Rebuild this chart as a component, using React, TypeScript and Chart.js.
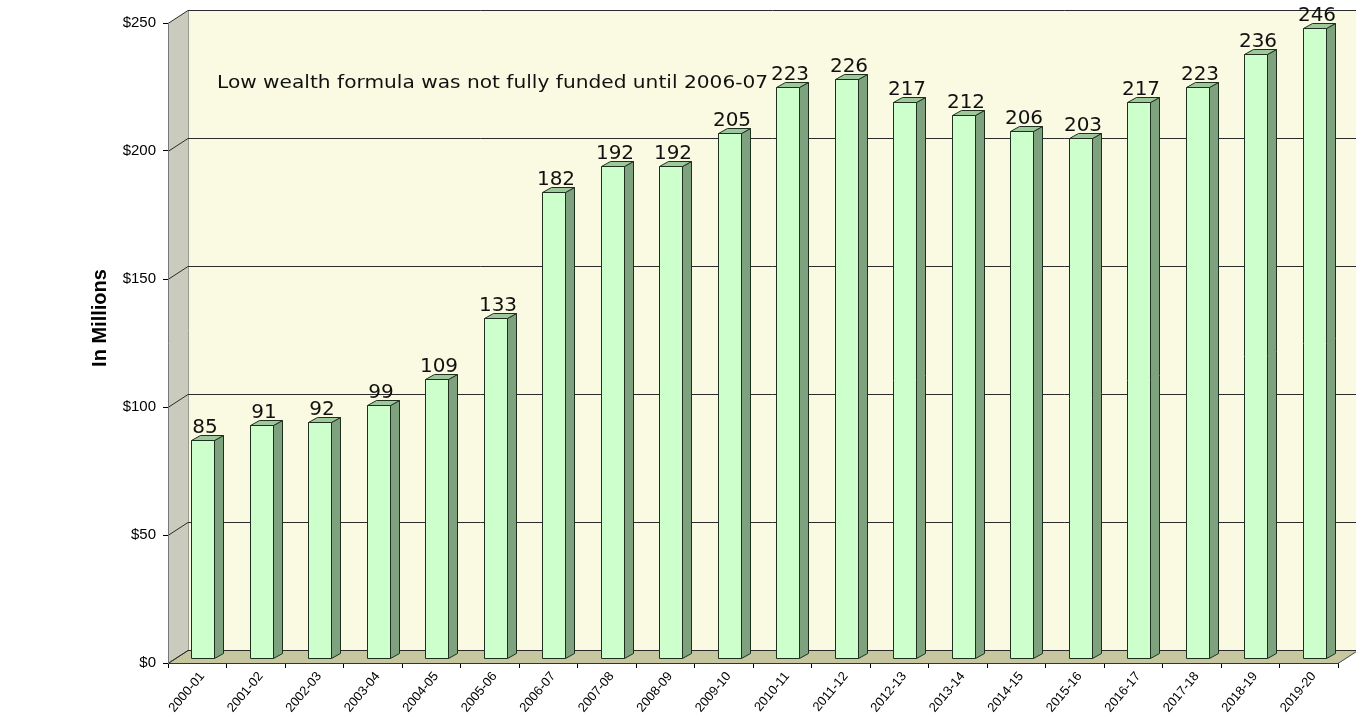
import React, { useEffect, useRef } from 'react';
import { Chart, registerables } from 'chart.js';

Chart.register(...registerables);

const categories = ['2000-01', '2001-02', '2002-03', '2003-04', '2004-05', '2005-06', '2006-07', '2007-08', '2008-09', '2009-10', '2010-11', '2011-12', '2012-13', '2013-14', '2014-15', '2015-16', '2016-17', '2017-18', '2018-19', '2019-20'];
const values = [85, 91, 92, 99, 109, 133, 182, 192, 192, 205, 223, 226, 217, 212, 206, 203, 217, 223, 236, 246];
const yTicks = [0, 50, 100, 150, 200, 250];
const yTitle = 'In Millions';
const annotation = 'Low wealth formula was not fully funded until 2006-07';

const DX = 20;
const DY = -13;

const threeD = {
  id: 'threeD',
  beforeDraw(chart: any) {
    const { ctx, chartArea: a, scales } = chart;
    const y = scales.y;
    const L = a.left, R = a.right;
    const T = Math.round(y.getPixelForValue(250)) + 0.5;
    const B = Math.round(y.getPixelForValue(0)) + 0.5;
    ctx.save();
    // back wall
    ctx.fillStyle = '#FAFAE2';
    ctx.fillRect(L + DX, T + DY, R - L + 60, B - T);
    // left wall
    ctx.beginPath();
    ctx.moveTo(L, T);
    ctx.lineTo(L + DX, T + DY);
    ctx.lineTo(L + DX, B + DY);
    ctx.lineTo(L, B);
    ctx.closePath();
    ctx.fillStyle = '#CBCBBD';
    ctx.fill();
    // floor
    ctx.beginPath();
    ctx.moveTo(L, B);
    ctx.lineTo(L + DX, B + DY);
    ctx.lineTo(R + DX, B + DY);
    ctx.lineTo(R, B);
    ctx.closePath();
    ctx.fillStyle = '#C6C69F';
    ctx.fill();
    ctx.strokeStyle = '#444444';
    ctx.lineWidth = 1;
    ctx.stroke();
    // back wall left edge
    ctx.strokeStyle = '#9a9a90';
    ctx.beginPath();
    ctx.moveTo(L + DX + 0.5, T + DY);
    ctx.lineTo(L + DX + 0.5, B + DY);
    ctx.stroke();
    // gridlines
    ctx.strokeStyle = '#2a2a2a';
    ctx.lineWidth = 1;
    yTicks.forEach((v) => {
      const py = Math.round(y.getPixelForValue(v)) + 0.5;
      ctx.beginPath();
      ctx.moveTo(L, py);
      ctx.lineTo(L + DX, py + DY);
      ctx.lineTo(R + DX + 40, py + DY);
      ctx.stroke();
    });
    // y title
    ctx.save();
    ctx.translate(100, 318);
    ctx.rotate(-Math.PI / 2);
    ctx.font = 'bold 20px "Liberation Sans", Arial, sans-serif';
    ctx.fillStyle = '#000';
    ctx.textAlign = 'center';
    ctx.textBaseline = 'middle';
    ctx.fillText(yTitle, 0, 0);
    ctx.restore();
    // annotation
    ctx.save();
    ctx.translate(217, 88);
    ctx.scale(1.12, 1);
    ctx.font = '18px "DejaVu Sans", Verdana, sans-serif';
    ctx.fillStyle = '#111';
    ctx.textAlign = 'left';
    ctx.textBaseline = 'alphabetic';
    ctx.fillText(annotation, 0, 0);
    ctx.restore();
    ctx.restore();
  },
  afterDatasetsDraw(chart: any) {
    const { ctx } = chart;
    const meta = chart.getDatasetMeta(0);
    ctx.save();
    ctx.lineWidth = 1;
    ctx.strokeStyle = '#1f2f1f';
    meta.data.forEach((el: any, i: number) => {
      const p = el.getProps(['x', 'y', 'base', 'width'], true);
      const w = p.width;
      const fx = Math.round(p.x + 5.25 - w / 2) + 0.5;
      const fr = fx + Math.round(w);
      const ft = Math.round(p.y - 5) + 0.5;
      const fb = Math.round(p.base - 5) + 0.5;
      const sx = 9, sy = -5;
      // side
      ctx.beginPath();
      ctx.moveTo(fr, ft);
      ctx.lineTo(fr + sx, ft + sy);
      ctx.lineTo(fr + sx, fb + sy);
      ctx.lineTo(fr, fb);
      ctx.closePath();
      ctx.fillStyle = '#7EA27E';
      ctx.fill();
      ctx.stroke();
      // top
      ctx.beginPath();
      ctx.moveTo(fx, ft);
      ctx.lineTo(fr, ft);
      ctx.lineTo(fr + sx, ft + sy);
      ctx.lineTo(fx + sx, ft + sy);
      ctx.closePath();
      ctx.fillStyle = '#9CC89C';
      ctx.fill();
      ctx.stroke();
      // front
      ctx.beginPath();
      ctx.rect(fx, ft, fr - fx, fb - ft);
      ctx.fillStyle = '#CCFFCC';
      ctx.fill();
      ctx.stroke();
      // label
      ctx.font = '20px "DejaVu Sans", Verdana, sans-serif';
      ctx.fillStyle = '#111';
      ctx.textAlign = 'center';
      ctx.textBaseline = 'alphabetic';
      ctx.fillText(String(values[i]), fx + w / 2 + 2, ft - 8);
    });
    ctx.restore();
  },
};

export default function App() {
  const ref = useRef<HTMLCanvasElement | null>(null);
  useEffect(() => {
    document.body.style.margin = '0';
    if (!ref.current) return;
    const chart = new Chart(ref.current, {
      type: 'bar',
      data: {
        labels: categories,
        datasets: [
          {
            data: values,
            backgroundColor: 'rgba(0,0,0,0)',
            borderWidth: 0,
            categoryPercentage: 1,
            barPercentage: 23 / 58.5,
          },
        ],
      },
      options: {
        responsive: false,
        animation: false,
        layout: { padding: { left: 0, right: 18, top: 23, bottom: 0 } },
        plugins: {
          legend: { display: false },
          tooltip: { enabled: false },
        },
        scales: {
          x: {
            afterFit: (s: any) => {
              s.height = 56;
            },
            grid: { offset: true, drawOnChartArea: false, drawTicks: true, tickLength: 5, color: '#000' },
            border: { display: true, color: '#333' },
            ticks: {
              autoSkip: false,
              maxRotation: 50,
              minRotation: 50,
              padding: 1,
              labelOffset: 5,
              color: '#000',
              font: { family: '"Liberation Sans", Arial, sans-serif', size: 13 },
            },
          },
          y: {
            min: 0,
            max: 250,
            afterFit: (s: any) => {
              s.width = 168;
            },
            afterBuildTicks: (s: any) => {
              s.ticks = yTicks.map((v) => ({ value: v }));
            },
            grid: { drawOnChartArea: false, drawTicks: true, tickLength: 5, color: '#000' },
            border: { display: true, color: '#777' },
            ticks: {
              padding: 7,
              color: '#000',
              font: { family: '"Liberation Sans", Arial, sans-serif', size: 15 },
              callback: (v: any) => '$' + v,
            },
          },
        },
      },
      plugins: [threeD],
    });
    return () => chart.destroy();
  }, []);
  return (
    <div style={{ position: 'absolute', left: 0, top: 0, width: 1356, height: 719 }}>
      <canvas ref={ref} width={1356} height={719} />
    </div>
  );
}
